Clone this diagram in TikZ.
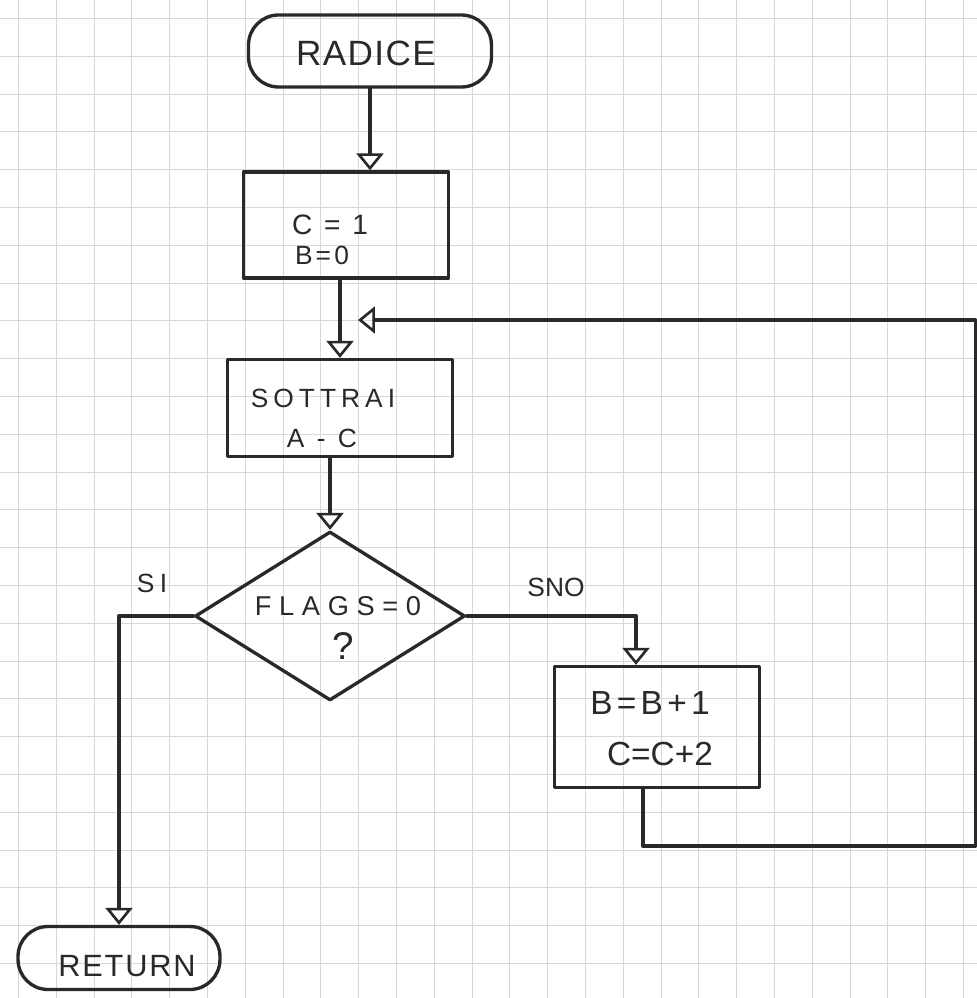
\documentclass[tikz,border=0pt]{standalone}
\usepackage{fontspec}
\setmainfont{Liberation Sans}
\usetikzlibrary{shapes.geometric,arrows.meta,calc}
\definecolor{ink}{RGB}{45,40,40}
\definecolor{gridc}{RGB}{208,220,220}
\begin{document}
\begin{tikzpicture}[x=0.02cm,y=-0.02cm,
  ln/.style={draw=ink, line width=1.9pt, line join=round, line cap=round},
  arr/.style={ln, -{Triangle[open, width=0.54cm, length=0.34cm, line width=1.5pt]}},
  boxst/.style={ln, rectangle, inner sep=0pt},
  term/.style={ln, rectangle, rounded corners=0.6cm, inner sep=0pt},
  dec/.style={ln, diamond, inner sep=0pt},
  txt/.style={text=ink, inner sep=0pt, align=center},
  gridline/.style={draw=gridc, line width=0.6pt}]
\useasboundingbox (0,0) rectangle (977,998);
\clip (0,0) rectangle (977,998);
\fill[white] (0,0) rectangle (977,998);
% squared paper
\foreach \i in {0,...,25} {
  \draw[gridline] (18.5+\i*37.8,0) -- ++(0,998);
  \draw[gridline] (0,18.5+\i*37.8) -- ++(977,0);
}
% nodes
\node[term, minimum width=4.86cm, minimum height=1.44cm] (rad) at (370,51) {};
\node[txt, font=\fontsize{20}{24}\selectfont\addfontfeatures{LetterSpace=4}] (radt) at (366,53) {RADICE};

\node[boxst, minimum width=4.1cm, minimum height=2.12cm] (b1) at (346,225) {};
\node[txt, font=\fontsize{16}{19}\selectfont\addfontfeatures{LetterSpace=14}] (b1a) at (330,225) {C = 1};
\node[txt, font=\fontsize{15}{18}\selectfont\addfontfeatures{LetterSpace=12}] (b1b) at (322,255) {B=0};

\node[boxst, minimum width=4.5cm, minimum height=1.94cm] (b2) at (340,408) {};
\node[txt, font=\fontsize{15}{18}\selectfont\addfontfeatures{LetterSpace=19}] (b2a) at (323,398) {SOTTRAI};
\node[txt, font=\fontsize{15}{18}\selectfont\addfontfeatures{LetterSpace=19}] (b2b) at (322,438) {A - C};

\node[dec, minimum width=5.4cm, minimum height=3.38cm] (dia) at (330,616) {};
\node[txt, font=\fontsize{15.5}{18}\selectfont\addfontfeatures{LetterSpace=28}] (diat) at (338,606) {FLAGS=0};
\node[txt, font=\fontsize{22}{26}\selectfont] (diaq) at (343,646) {?};

\node[boxst, minimum width=4.1cm, minimum height=2.42cm] (b3) at (657,727) {};
\node[txt, font=\fontsize{19}{22}\selectfont\addfontfeatures{LetterSpace=13}] (b3a) at (650,703) {B=B+1};
\node[txt, font=\fontsize{19}{22}\selectfont] (b3b) at (660,754) {C=C+2};

\node[term, minimum width=4.04cm, minimum height=1.26cm] (ret) at (119,958) {};
\node[txt, font=\fontsize{17.5}{21}\selectfont\addfontfeatures{LetterSpace=6}] (rett) at (127,966) {RETURN};

\node[txt, font=\fontsize{15}{18}\selectfont\addfontfeatures{LetterSpace=20}] (si) at (152,583) {SI};
\node[txt, font=\fontsize{15}{18}\selectfont] (no) at (556,587) {SNO};

% connectors
\coordinate (in3) at ($(b3.north)+(-21,0)$);
\coordinate (out3) at ($(b3.south)+(-14,0)$);
\coordinate (c2) at (975.5,846);
\coordinate (join) at (358,320);

\draw[arr] (rad.south) -- (rad.south |- b1.north);
\draw[arr] (b1.south -| b2.north) -- (b2.north);
\draw[arr] (dia.north |- b2.south) -- (dia.north);
\draw[arr] (dia.west) -| (ret.north);
\draw[arr] (dia.east) -| (in3);
\draw[arr] (out3) |- (c2) |- (join);
\end{tikzpicture}
\end{document}
